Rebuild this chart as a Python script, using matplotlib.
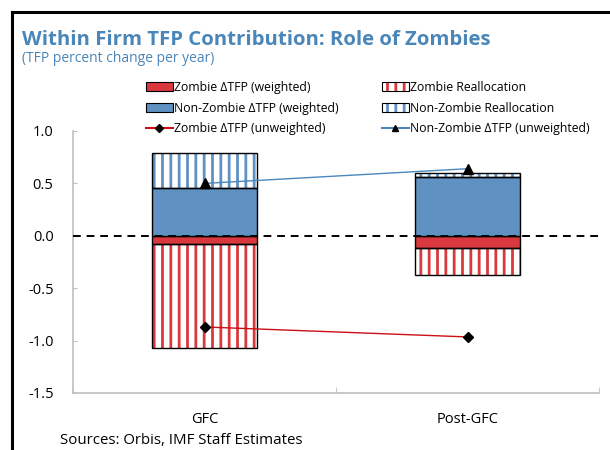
import numpy as np
import matplotlib
matplotlib.use("Agg")
import matplotlib.pyplot as plt
from matplotlib.patches import Patch
from matplotlib.lines import Line2D
from matplotlib.legend_handler import HandlerTuple

plt.rcParams['font.family'] = ['Open Sans', 'DejaVu Sans']
plt.rcParams['hatch.linewidth'] = 2.0

# data (TFP percent change per year)
periods = ['GFC', 'Post-GFC']
zombie_weighted = [-0.08, -0.115]
zombie_realloc = [-0.99, -0.255]
nonzombie_weighted = [0.46, 0.563]
nonzombie_realloc = [0.33, 0.037]
zombie_unweighted = [-0.87, -0.965]
nonzombie_unweighted = [0.50, 0.64]

red = '#d9393e'
red_line = '#cc1016'
blue = '#5f91c2'
blue_line = '#4a87bd'
title_col = '#4a86b8'
grey = '#bfbfbf'

fig = plt.figure(figsize=(6.1, 4.5), dpi=100)
ax = fig.add_axes([73/610, 57/450, 526/610, 262/450])

x = np.arange(len(periods)) + 0.5
w = 0.40

def hatched(xs, h, bottom, col):
    ax.bar(xs, h, w, bottom=bottom, color='white', edgecolor=col, hatch='||', linewidth=0, zorder=2)
    ax.bar(xs, h, w, bottom=bottom, fill=False, edgecolor='black', linewidth=1.0, zorder=3)

zb = np.array(zombie_weighted)
nb = np.array(nonzombie_weighted)
ax.bar(x, zb, w, color=red, edgecolor='black', linewidth=1.0, zorder=3)
hatched(x, zombie_realloc, zb, red)
ax.bar(x, nb, w, color=blue, edgecolor='black', linewidth=1.0, zorder=3)
hatched(x, nonzombie_realloc, nb, blue)

ax.axhline(0, color='black', linestyle=(0, (4, 3)), linewidth=1.4, zorder=4)

ax.plot(x, zombie_unweighted, color=red_line, linewidth=1.0, marker='D', markersize=5,
        markerfacecolor='black', markeredgecolor='black', zorder=5)
ax.plot(x, nonzombie_unweighted, color=blue_line, linewidth=1.0, marker='^', markersize=7,
        markerfacecolor='black', markeredgecolor='black', zorder=5)

ax.set_xlim(0, 2)
ax.set_ylim(-1.5, 1.0)
ax.set_yticks([-1.5, -1.0, -0.5, 0.0, 0.5, 1.0])
ax.set_yticklabels(['-1.5', '-1.0', '-0.5', '0.0', '0.5', '1.0'])
ax.set_xticks(x)
ax.set_xticklabels(periods)
ax.set_xticks([0, 1, 2], minor=True)
ax.tick_params(axis='x', which='major', length=0, pad=14, labelsize=10.5)
ax.tick_params(axis='x', which='minor', direction='in', length=4, color=grey)
ax.tick_params(axis='y', direction='in', length=3, color=grey, pad=14, labelsize=10.5)
for s in ['top', 'right']:
    ax.spines[s].set_visible(False)
for s in ['left', 'bottom']:
    ax.spines[s].set_color(grey)
    ax.spines[s].set_linewidth(1.2)

# legend
hz = Patch(facecolor=red, edgecolor='black', linewidth=0.8)
hn = Patch(facecolor=blue, edgecolor='black', linewidth=0.8)
hzu = Line2D([], [], color=red_line, marker='D', markersize=4, markerfacecolor='black', markeredgecolor='black')
hzr = (Patch(facecolor='white', edgecolor=red, hatch='||', linewidth=0),
       Patch(fill=False, edgecolor='black', linewidth=0.8))
hnr = (Patch(facecolor='white', edgecolor=blue, hatch='||', linewidth=0),
       Patch(fill=False, edgecolor='black', linewidth=0.8))
hnu = Line2D([], [], color=blue_line, marker='^', markersize=5, markerfacecolor='black', markeredgecolor='black')

lkw = dict(frameon=False, fontsize=8.8, loc='upper left', handlelength=2.2, handleheight=0.8,
           handletextpad=0.1, labelspacing=0.62, borderpad=0, borderaxespad=0,
           handler_map={tuple: HandlerTuple(ndivide=1)})
fig.legend([hz, hn, hzu], ['Zombie ΔTFP (weighted)', 'Non-Zombie ΔTFP (weighted)', 'Zombie ΔTFP (unweighted)'],
           bbox_to_anchor=(146/610, 1 - 81/450), **lkw)
fig.legend([hzr, hnr, hnu], ['Zombie Reallocation', 'Non-Zombie Reallocation', 'Non-Zombie ΔTFP (unweighted)'],
           bbox_to_anchor=(382/610, 1 - 81/450), **lkw)

# titles and notes
fig.text(22/610, 1 - 45/450, 'Within Firm TFP Contribution: Role of Zombies', color=title_col,
         fontsize=14.7, fontweight='bold', va='baseline')
fig.text(22/610, 1 - 62/450, '(TFP percent change per year)', color=title_col, fontsize=10, va='baseline')
fig.text(60/610, 1 - 444/450, 'Sources: Orbis, IMF Staff Estimates', fontsize=10.8, va='baseline')

# panel frame
fig.add_artist(Line2D([12/610, 12/610], [0, 1 - 12/450], color='black', linewidth=2.2))
fig.add_artist(Line2D([12/610, 1], [1 - 12/450, 1 - 12/450], color='black', linewidth=2.2))

fig.savefig('out.png', dpi=100)
